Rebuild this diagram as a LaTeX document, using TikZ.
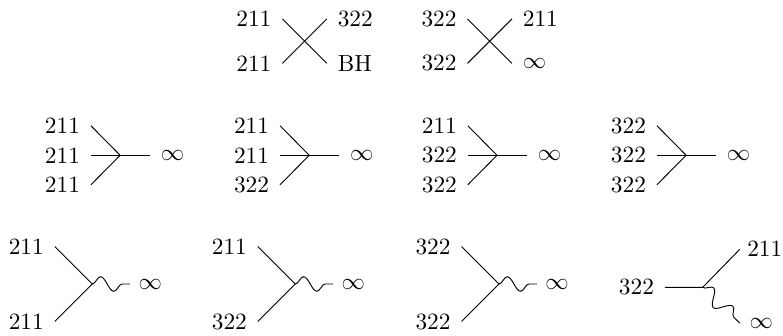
\documentclass[tikz,border=0pt]{standalone}
\usetikzlibrary{decorations.pathmorphing}

\tikzset{
	lbl/.style={inner xsep=4.5pt},
	wavy/.style={decorate, decoration={snake, segment length=4mm, amplitude=1.1mm, post length=1.2mm}}
}

\begin{document}
\begin{tikzpicture}
	\useasboundingbox (0,0) rectangle (11.80,5.05);
	
	%two to two
	\foreach \x/\a/\b/\c/\d [count=\i] in {4.59/211/211/322/BH, 7.38/322/322/211/$\infty$}
	{
		\coordinate (x\i) at (\x, 4.43);
		\coordinate (x\i-a) at (\x-0.335, 4.765);
		\coordinate (x\i-b) at (\x-0.335, 4.095);
		\coordinate (x\i-c) at (\x+0.335, 4.765);
		\coordinate (x\i-d) at (\x+0.335, 4.095);
		\node[lbl, left] (x\i-la) at (x\i-a) {\a};
		\node[lbl, left] (x\i-lb) at (x\i-b) {\b};
		\node[lbl, right] (x\i-lc) at (x\i-c) {\c};
		\node[lbl, right] (x\i-ld) at (x\i-d) {\d};
		\draw (x\i-a) -- (x\i) -- (x\i-d);
		\draw (x\i-b) -- (x\i) -- (x\i-c);
	}
	
	%three to one
	\foreach \x/\a/\b/\c [count=\i] in {1.81/211/211/211, 4.66/211/211/322, 7.49/211/322/322, 10.34/322/322/322}
	{
		\coordinate (t\i) at (\x, 2.71);
		\coordinate (t\i-a) at (\x-0.44, 3.155);
		\coordinate (t\i-b) at (\x-0.44, 2.71);
		\coordinate (t\i-c) at (\x-0.44, 2.265);
		\coordinate (t\i-o) at (\x+0.45, 2.71);
		\node[lbl, left] (t\i-la) at (t\i-a) {\a};
		\node[lbl, left] (t\i-lb) at (t\i-b) {\b};
		\node[lbl, left] (t\i-lc) at (t\i-c) {\c};
		\node[lbl, right] (t\i-lo) at (t\i-o) {$\infty$};
		\draw (t\i-a) -- (t\i) -- (t\i-c);
		\draw (t\i-b) -- (t\i) -- (t\i-o);
	}
	
	%two to one, wavy
	\foreach \x/\a/\b [count=\i] in {1.39/211/211, 4.45/211/322, 7.52/322/322}
	{
		\coordinate (w\i) at (\x, 0.77);
		\coordinate (w\i-a) at (\x-0.565, 1.335);
		\coordinate (w\i-b) at (\x-0.565, 0.205);
		\coordinate (w\i-o) at (\x+0.57, 0.77);
		\node[lbl, left] (w\i-la) at (w\i-a) {\a};
		\node[lbl, left] (w\i-lb) at (w\i-b) {\b};
		\node[lbl, right, inner xsep=3.5pt] (w\i-lo) at (w\i-o) {$\infty$};
		\draw (w\i-a) -- (w\i) -- (w\i-b);
		\draw[wavy] (w\i) -- (w\i-o);
	}
	
	%one to two
	\coordinate (d) at (10.59, 0.72);
	\coordinate (d-in) at (10.02, 0.72);
	\coordinate (d-up) at (11.15, 1.295);
	\coordinate (d-dn) at (11.15, 0.18);
	\node[lbl, left] (d-lin) at (d-in) {322};
	\node[lbl, right, inner xsep=3pt] (d-lup) at (d-up) {211};
	\node[lbl, right, inner xsep=4pt] (d-ldn) at (d-dn) {$\infty$};
	\draw (d-in) -- (d) -- (d-up);
	\draw[wavy] (d) -- (d-dn);
\end{tikzpicture}
\end{document}
